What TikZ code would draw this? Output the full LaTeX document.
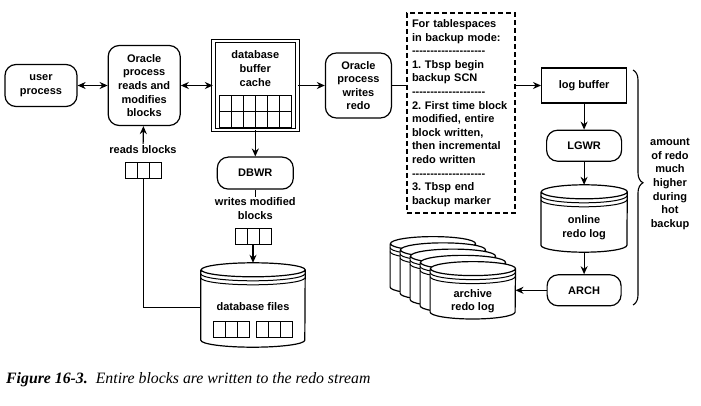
\documentclass[tikz,border=0pt]{standalone}
\usepackage{fontspec}
\setsansfont{Liberation Sans}
\newfontfamily\capfont{Liberation Serif}
\usetikzlibrary{shapes,arrows.meta,positioning,calc,decorations.pathreplacing}
\frenchspacing

% row of hyphens (kerns keep them from joining into dashes)
\newcommand{\dashfive}{-\kern0pt-\kern0pt-\kern0pt-\kern0pt-\kern0pt}
\newcommand{\dashrow}{\dashfive\dashfive\dashfive\dashfive}

% disk outline over an invisible node: node name, x radius
\newcommand{\drawdisk}[2]{%
  \draw[line width=1.2pt, fill=white]
    ([yshift=-7pt]#1.north west) -- ([yshift=7pt]#1.south west)
    arc[start angle=180, end angle=360, x radius=#2, y radius=7pt]
    -- ([yshift=-7pt]#1.north east)
    arc[start angle=0, end angle=360, x radius=#2, y radius=7pt];
  \draw[line width=1pt] ([yshift=-11pt]#1.north west)
    arc[start angle=180, end angle=360, x radius=#2, y radius=7pt];
  \draw[line width=1pt] ([yshift=-15pt]#1.north west)
    arc[start angle=180, end angle=360, x radius=#2, y radius=7pt];
}

\begin{document}
\begin{tikzpicture}[x=1pt, y=-1pt, node distance=30pt,
    font=\sffamily\bfseries\fontsize{11}{13.6}\selectfont,
    proc/.style={rectangle, draw, rounded corners=11pt, line width=1.2pt, align=center},
    box/.style={rectangle, draw, line width=1.2pt, align=center},
    cells/.style={rectangle, draw, line width=1pt, inner sep=0pt, minimum width=#1*12pt, minimum height=16pt,
        path picture={\foreach \k in {2,...,#1}
            \draw[line width=1pt] ([xshift=(\k-1)*12pt]path picture bounding box.south west)
                -- ([xshift=(\k-1)*12pt]path picture bounding box.north west);}},
    disk/.style={rectangle, inner sep=0pt},
    txt/.style={align=center, inner sep=1pt},
    arrow/.style={-{Stealth[length=8pt, width=7pt]}, line width=1.2pt},
    dblarrow/.style={{Stealth[length=8pt, width=7pt]}-{Stealth[length=8pt, width=7pt]}, line width=1.2pt},
    plain/.style={line width=1.2pt}]
    \useasboundingbox (0,0) rectangle (701,406);

    % Top row
    \node[proc, minimum width=72pt, minimum height=42pt] (user) at (41,85.5) {user\\process};
    \node[proc, minimum width=72pt, minimum height=80pt, right=30pt of user] (readproc) {Oracle\\process\\reads and\\modifies\\blocks};
    \node[box, double, line width=1pt, double distance=2.5pt, minimum width=84pt, minimum height=89pt, right=32pt of readproc] (cache) {};
    \node[txt] (cachetext) at ([yshift=-28pt]cache.north) {database\\buffer\\cache};
    \node[cells=6] (cachegrid1) at ([yshift=-63pt]cache.north) {};
    \node[cells=6] (cachegrid2) at ([yshift=-79pt]cache.north) {};
    \node[proc, minimum width=66pt, minimum height=65pt, right=27pt of cache] (writeproc) {Oracle\\process\\writes\\redo};

    % Backup mode notes
    \node[box, dashed, dash pattern=on 5pt off 3pt, minimum width=108pt, minimum height=200pt,
        text width=98pt, inner xsep=5pt, align=left] (notes) at (461,113)
        {For tablespaces\\in backup mode:\\\dashrow\\1. Tbsp begin\\backup SCN\\\dashrow\\2. First time block\\modified, entire\\block written,\\then incremental\\redo written\\\dashrow\\3. Tbsp end\\backup marker};

    % Redo side
    \node[box, minimum width=85pt, minimum height=35pt, right=149pt of writeproc] (logbuf) {log buffer};
    \node[proc, minimum width=75pt, minimum height=31pt, below=26pt of logbuf] (lgwr) {LGWR};
    \node[disk, minimum width=86pt, minimum height=67pt, below=23pt of lgwr] (online) {};
    \drawdisk{online}{43pt}
    \node[txt] (onlinetext) at ([yshift=-9pt]online.center) {online\\redo log};
    \node[proc, minimum width=74pt, minimum height=31pt, below=22pt of online] (arch) {ARCH};

    % Archived logs
    \node[disk, minimum width=85pt, minimum height=57pt, left=31pt of arch] (archive) {};
    \node[disk, minimum width=85pt, minimum height=57pt] (archive1) at ([shift={(-10,-6.25)}]archive.center) {};
    \node[disk, minimum width=85pt, minimum height=57pt] (archive2) at ([shift={(-20,-12.5)}]archive.center) {};
    \node[disk, minimum width=85pt, minimum height=57pt] (archive3) at ([shift={(-30,-18.75)}]archive.center) {};
    \node[disk, minimum width=85pt, minimum height=57pt] (archive4) at ([shift={(-40,-25)}]archive.center) {};
    \drawdisk{archive4}{42.5pt}
    \drawdisk{archive3}{42.5pt}
    \drawdisk{archive2}{42.5pt}
    \drawdisk{archive1}{42.5pt}
    \drawdisk{archive}{42.5pt}
    \node[txt] (archivetext) at ([yshift=-11pt]archive.center) {archive\\redo log};

    % Database writer side
    \node[proc, minimum width=76pt, minimum height=32pt, below=26pt of cache] (dbwr) {DBWR};
    \node[txt, below=7pt of dbwr] (wtext) {writes modified\\blocks};
    \node[cells=3] (wblocks) at (253,236) {};
    \node[disk, minimum width=104pt, minimum height=84pt] (dbfiles) at (253,305) {};
    \drawdisk{dbfiles}{52pt}
    \node[txt] (dbtext) at ([yshift=-2pt]dbfiles.center) {database files};
    \node[cells=3] (dbblocks1) at ([xshift=-22pt, yshift=-24.5pt]dbfiles.center) {};
    \node[cells=3] (dbblocks2) at ([xshift=21.5pt, yshift=-24.5pt]dbfiles.center) {};

    % Reads
    \node[txt, inner sep=2pt] (rtext) at (143,150) {reads blocks};
    \node[cells=3] (rblocks) at (143,171) {};

    % Brace and remark
    \coordinate (bracetop) at (633,70);
    \coordinate (bracebot) at (633,305);
    \draw[line width=1.1pt, decorate, decoration={brace, amplitude=10pt, aspect=0.48}] (bracetop) -- (bracebot);
    \node[txt] (amount) at (670,184) {amount\\of redo\\much\\higher\\during\\hot\\backup};

    % Arrows
    \draw[dblarrow] (user) -- (readproc);
    \draw[dblarrow] (readproc) -- (cache);
    \draw[arrow] (cache) -- (writeproc);
    \draw[plain] (writeproc) -- (writeproc -| notes.west);
    \draw[arrow] (logbuf.west -| notes.east) -- (logbuf);
    \draw[arrow] (logbuf) -- (lgwr);
    \draw[arrow] (lgwr) -- (online);
    \draw[arrow] (online) -- (arch);
    \draw[arrow] (arch) -- (archive);
    \draw[arrow] (cache) -- (dbwr);
    \draw[plain] (dbwr) -- (wtext);
    \draw[arrow] (wblocks) -- (dbfiles);
    \draw[arrow] (rtext) -- (readproc);
    \draw[plain, line width=1pt] (rblocks) |- ([yshift=-2pt]dbfiles.west);

    % Caption
    \node[anchor=base west, inner sep=0pt, font=\capfont\fontsize{15.8}{18}\selectfont\itshape] (caption) at (6,383)
        {\textbf{Figure 16-3.}\hspace{8pt}Entire blocks are written to the redo stream};
\end{tikzpicture}
\end{document}
